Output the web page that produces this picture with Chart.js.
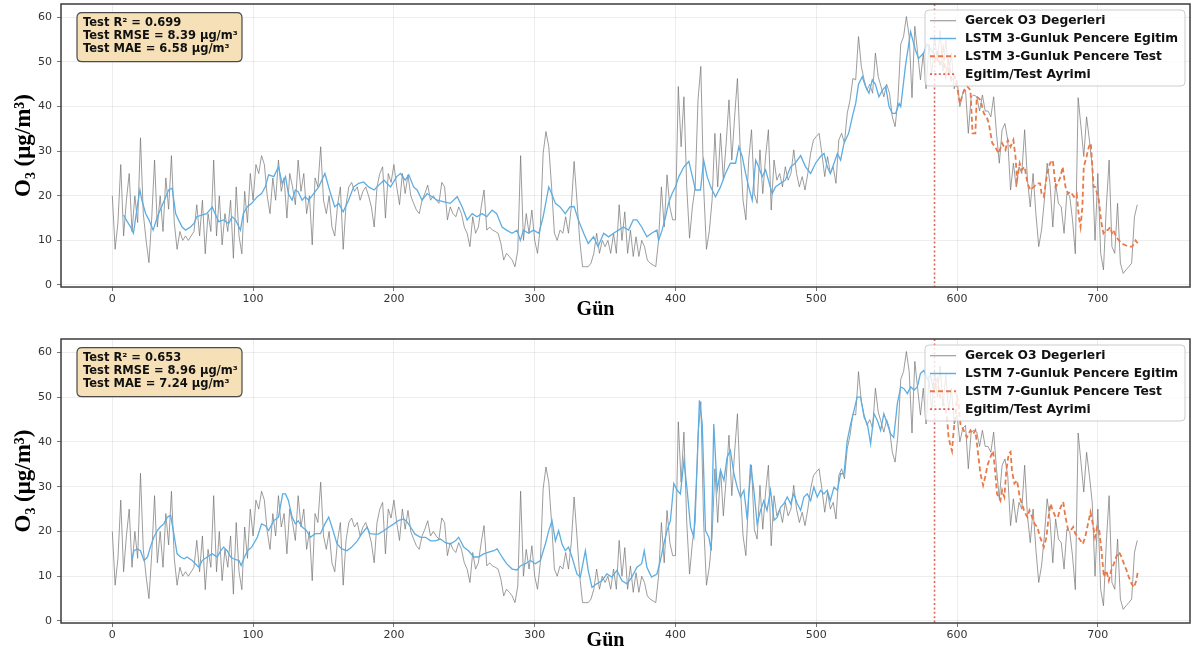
<!DOCTYPE html>
<html><head><meta charset="utf-8">
<script src="https://cdn.jsdelivr.net/npm/chart.js@4.4.1/dist/chart.umd.min.js"></script>
<style>
html,body{margin:0;padding:0;background:#fff;}
#wrap{position:relative;width:1192px;height:655px;overflow:hidden;background:#fff;}
canvas{position:absolute;left:0;}
</style></head><body>
<div id="wrap">
<canvas id="c1" width="1192" height="328" style="top:0px"></canvas>
<canvas id="c2" width="1192" height="327" style="top:328px"></canvas>
</div>
<script>
// ---------------- DATA ----------------
const xTicks = [0, 100, 200, 300, 400, 500, 600, 700];
const yTicks = [0, 10, 20, 30, 40, 50, 60];
const splitDay = 584;
const grayStepDays = 2;   // observed series sampled every 2 days starting at day 0
const grayValues = [
 20,8,14,27,11,19,25,12,20,14,33,16,10,5,15,28,13,20,12,24,17,29,14,8,12,10,11,10,11,12,18,11,19,7,16,12,28,11,20,9,16,12,19,6,22,11,7,21,14,25,19,
 27,25,29,27,20,16,24,19,28,21,24,15,25,22,18,28,21,25,16,20,9,24,22,31,19,16,20,13,11,18,22,8,18,22,23,21,22,19,21,22,20,
 17.5,13,22,25,26.5,15,25,23,27,22,
 18,25,20.5,24.7,20,18.3,16.8,16,19,20.5,
 22.4,19,20,19,18.3,23,22,14.6,17.5,16,
 15.3,17.5,16,13,11.6,8.6,15.3,11.6,13,17.5,
 21.3,12.3,13,12.3,12,11.6,9.3,5.6,7.1,6.4,
 5.6,4.1,7.8,29,10,16,11.6,16.8,10,7.1,
 13,29.5,34.4,31,22,11.6,10,12.3,11.6,15.3,
 11.6,17.5,27.7,19,10,4.1,4.1,4.1,4.9,7.1,
 11.6,7.1,10,8.6,10,7.1,11.6,7.1,18,10,
 16.4,7.1,12.3,6.4,10.8,6.4,10,8.6,
 5.6,4.9,4.5,4.1,10,22,13,24.7,17.5,14.6,
 14.6,44.5,31,42.2,22,10.5,17.5,22,41.5,49,
 22,8,12,19,34,22,34,23.5,31.8,41.5,
 28,37.7,46.3,30.3,19,14.6,28,34.8,20.5,18.3,
 30.3,20.5,28.8,34.8,16.8,28,23.5,25,22,26.5,
 23.5,25,30.3,25,22,24.3,21.3,25,29.5,32.5,
 33.3,34,29.5,24.3,28.8,25,26.5,22.8,32.5,34,
 31.8,38.5,41.5,46.3,46,55.7,49,46,43.7,45,
 43,52,46.7,44.5,42.2,45,43,37.7,35.5,41.5,
 54,55.7,60.2,55.7,42,58,52,46,52,44,
 54,47,56,50,57,48,55,47,52,44,
 46,40,43,43.7,34,42.2,42.6,42.2,39,42.6,
 39,39,37.7,42.2,34,27.3,34.8,36.2,32.5,21.3,
 27.3,22,26.5,25,34.8,23.5,17.5,25,16,8.6,
 12.3,19,27.3,22.8,13,22.8,18.3,17.5,11.6,20.5,
 20,14.6,7,42,35.5,28.8,37.7,32.5,26.5,10,
 25,7.1,3.4,17.5,28,8.6,7.1,18.3,4.9,2.6,
 3.4,4.1,4.9,15.3,18
];
// [day, value] pairs
const train3 = [
 [8,15.7],[10.6,14.2],[13,13],[15,11.6],[17.7,17.5],[19.6,21.3],[21,19],[23.6,16.1],[26,14.6],[29,12.3],[32,15.3],[34,16.8],[38,19.8],[40,21.3],[42.5,21.7],[45,16],[47,14.6],[49.6,13],[52,12.3],[55.5,13],[58,13.8],[60,15.3],[64,15.7],[67,16],[71,17.5],[73,16],[75.6,14.2],[79,14.6],[82.7,13.8],[85,15.3],[87.5,14.6],[91,12.3],[93,16],[95.7,17.5],[99,18.3],[103,19.8],[106,20.5],[108.7,22],[111,24.7],[114.7,24.3],[118,26.5],[120.6,22.8],[123,24.3],[125,20.5],[127.7,19],[130,21.3],[132,20.9],[134.8,19],[137,19.8],[139.5,19],[143,20.5],[146.6,22],[151,25],[155,20.5],[158,17.5],[160.8,18.3],[164,16.4],[167.8,19],[171.4,22],[175,22.8],[178.5,23.1],[182,22],
 [186,21.3],[188,22],[193,23.5],[197.6,22],[202,24.3],[204.7,25],[208,23.5],[210.6,24.7],[214,22],[216.5,21.3],[220,19],[223.6,20.5],[227,19.8],[230.7,19],[235,18.7],[240,18.3],[245,19.8],[248.5,17.5],[252,14.6],[255.6,16],[259,15.3],[262.6,16],[266,15.3],[269.7,16.8],[273,16],[276.8,13],[280,12.3],[284,11.6],[287.5,12.3],[289.8,10],[292,12.3],[295.7,11.6],[299,12.3],[303,11.6],[306,15.3],[310,22],[312,20.5],[314.7,18.3],[318,17.5],[321.7,16],[325,17.5],[328,17.6],[331,14.6],[334.8,11.6],[338,9.3],[341.8,10.8],[345,8.6],[349,11.6],[352.5,10.8],[356,11.6],[359.6,12.3],[363,13],[366.7,12.3],[370,14.6],[372.6,14.6],[376,13],[379.7,10.8],[383,11.6],[386.8,12.3],
 [388,10],[390.5,12.3],[393,15.3],[395,18.3],[397.6,20.5],[400,22],[402.4,24.3],[406,26.5],[409.5,27.7],[412,24.3],[414.2,21.3],[417.8,21.3],[420,28],[422.5,24.3],[425,22],[428.4,19.8],[432,22],[435.5,25],[439,27.3],[442.7,27.3],[445,31],[447.4,28.8],[449.8,25],[452,22],[454.5,19],[457,28],[459,26.5],[461.6,24.3],[464,25.8],[466,23.5],[468.7,20.5],[471,22],[474.6,22.8],[478,23.5],[481.8,26.5],[485,27.3],[488.9,29],[492.4,26.5],[496,25],[499.5,27.3],[503,28.8],[505.5,29.5],[507.8,26.5],[510,25],[512.6,27.3],[515,29.5],[517.3,28],[519.7,31.8],[523,34],[525.6,37.7],[528,40.7],[530,45],[532.7,46.7],[535,44.5],[537.4,43],[539.8,46],[542,45],[544.5,42.2],[547,43.7],[549.3,44.5],[551.7,40],[554,38.5],[556.4,38.5],[558.8,40.7],[560,40],[563.3,49],[567,56.8],[570.4,52.7],[572.7,50.8],[576.3,52],[578.7,54],[581,53],[583,52]
];
const test3 = [
 [584,50],[586,52],[588,49],[590,53],[592,47],[594,50],[596,46],[598,47],[600,44.5],[602,40.7],[605,43.7],[607.3,44.5],[609.5,43.7],[611,34],[613,34],[614,42.2],[616.6,41.5],[619,38.5],[621,37.7],[622.5,36.3],[625,31.8],[627,31],[629.6,29.5],[632,31.8],[634.4,30.3],[636,32.5],[638,31],[640,32.5],[641.5,28.8],[642.6,23.5],[644.5,27.3],[646,25.8],[648,26.5],[650,22.8],[652,21.3],[654.5,22],[657,22.8],[659,22.8],[660,20.5],[661.6,19.8],[664,25],[666,27.3],[668,28],[670,22],[671.6,22.8],[673.5,24.3],[675,26.5],[677,22],[678.7,20.5],[680.6,20.9],[683,19.8],[685,20.5],[686.5,15.3],[687.7,13],[689,17.5],[690,26.5],[692,28.8],[693.6,31],[695,31.8],[697,22],[698,22],[699.5,20.5],[700.7,19],[702,15.3],[703,13],[704,11.6],[705.5,12.3],[707,12.3],[709,13],[710,11.6],[711,12.3],[713,10.8],[715,10],[717,9.3],[719.7,8.9],[722,8.6],[724.4,8.6],[726.8,10],[728.4,9.3]
];
const train7 = [
 [13.7,13.5],[15.4,15.7],[17.7,16.1],[20,15.7],[22.5,13.5],[25,14.3],[27,16.5],[29.5,18.7],[32,20.2],[34,21],[36.6,21.7],[39,23.2],[41.4,23.6],[43.7,19.5],[46,15],[48.5,14.3],[51,13.9],[53,14.3],[56.7,13.5],[59,12.8],[61.5,12],[63.8,13.5],[67.4,14.3],[71,15],[74.5,14.3],[77,15.7],[79,16.5],[81.6,15.7],[84,14.3],[86,13.9],[90,13.5],[91.5,12.4],[93.9,14.3],[96,15.7],[99,16.5],[103,18.7],[106,21.7],[108.7,21.3],[111,20.2],[114.7,22.4],[118,23.2],[121,28.4],[123,28.4],[125,27],[127.7,23.2],[130,21.7],[132,22.4],[134.8,21],[138,20.2],[140.7,18.7],[144,19.5],[147.8,19.5],[151,21.7],[153.7,23.2],[156,21],[159.6,17.2],[163,16.1],[166.7,15.7],[170,16.5],[174,17.9],[177,19.4],[181,21],[183,19.5],
 [186,19.4],[189,19.4],[193,20.2],[196.5,21],[200,21.7],[203.5,22.5],[207,22.8],[209.5,22.1],[211.8,21],[215,19.4],[219,18.7],[222.5,18.7],[226,17.9],[229.5,17.9],[233,18.3],[236.6,17.5],[240,17.2],[243.7,17.9],[246,18.7],[249.6,16.5],[253,15.7],[256.7,14.3],[260,14.3],[263.8,15],[267.4,15.4],[271,15.7],[273.3,16.1],[276.8,14.3],[280,12.8],[284,11.6],[287.5,11.4],[289.8,12.3],[293.4,12.8],[297,13.5],[300.5,12.8],[304,13.5],[307.6,17.2],[310,20.2],[312.3,22.4],[314.7,17.9],[317,20.2],[319.4,17.2],[321.7,15.7],[324,16.5],[326.5,14.3],[330,10.5],[332.4,9.8],[336,15.7],[338,11.3],[340.7,7.5],[344,8.3],[347.8,9],[351.3,10.5],[354.8,9.8],[358.4,11.3],[362,9],[365.5,8.3],[369,9.8],[372.6,12],[376,12.8],[377.8,15.7],[379.7,12],[383,9.8],[386.8,10.5],
 [389.3,13.5],[391.7,17.2],[394,20.2],[396.4,22.4],[398.8,30.7],[401.2,29.2],[403.5,28.4],[406,35.9],[408.3,29.2],[410.7,21],[413,18.7],[415.4,35],[417,49.3],[419,44],[421.3,20.2],[423.7,18.7],[425.4,15.7],[427.2,44],[429.6,29.2],[432,33.7],[434.4,31.4],[436.7,36.6],[439,38.1],[441.5,32.9],[443.8,29.9],[446.2,27.7],[448.6,29.2],[451,22.5],[453.3,35],[455.7,29.2],[458,21.7],[460.4,24.7],[462.8,26.9],[465,24.7],[467.5,29.2],[470,22.5],[472.3,23.2],[474.6,25.4],[477,26.2],[479.4,27.7],[481.8,26.2],[484,28.4],[486.5,26.2],[488.9,24.7],[491.2,27.7],[493.6,28.4],[496,26.9],[498.3,29.9],[500.7,27.7],[503,29.2],[505.5,28.4],[507.8,29.2],[510,26.9],[512.6,29.9],[515,29.2],[517.3,32.9],[519.7,32.9],[522,40.3],[524.4,44],[526.8,47],[529,50],[531.5,50],[534,45.5],[536.3,44],[538.6,39.6],[541,46.3],[543.4,44.8],[545.7,42.6],[548,46.3],[550.5,44],[552.8,41.8],[555,41],[557.6,48.6],[560,52.3],[562.3,51.9],[564.7,50.8],[567,52.3],[569.4,51.6],[571.8,52.3],[574,55.3],[576.5,56],[579,54],[581,55],[583,52]
];
const test7 = [
 [584,52],[586,54],[588,50],[590,49],[592,47],[593,44.8],[594,41],[595,39.6],[596.4,38],[597.6,42.6],[598.8,45.6],[600,50],[601,48.6],[602.4,44],[604.7,42.6],[607,41],[609.5,42.6],[611.4,41.8],[613,42.6],[614.7,38],[616.6,32.9],[618.5,30.3],[620,32.2],[621.8,35],[623.7,36.6],[625.6,38],[627,33.6],[628.4,28.4],[629.6,27.7],[630.8,26.9],[632,29.2],[633.6,27.7],[635,33.6],[636.7,37.4],[638,37.8],[639,33.6],[640.7,30.7],[642.6,31.4],[644.5,27.7],[646,26.2],[648,24.3],[650,23.2],[651.4,24.7],[653.3,23.2],[655,21.7],[657,21],[659,18.7],[661.6,16.5],[663.5,18.7],[665,23.2],[666.4,26.2],[668,24.7],[670,23.2],[671.6,23.2],[673.5,25.4],[675.4,26.6],[677,23.2],[679,20.2],[680.6,20.2],[682.5,21],[684,19.5],[686,18.7],[687.7,18],[689.3,17.2],[691,18.7],[693,21.7],[694.8,24.3],[696.4,21.7],[698,18.7],[699.5,21],[701,20.2],[702.6,15.7],[704.3,9.8],[706,11.3],[707.8,9],[709.5,11.3],[711.4,12.8],[713,14.3],[715,15.4],[716.8,14.3],[718.5,12.8],[720.4,11.3],[722,9.8],[724,8.3],[725.6,7.5],[727.3,9],[728.4,11.1]
];
const stats3 = ['Test R\u00b2 = 0.699', 'Test RMSE = 8.39 \u03bcg/m\u00b3', 'Test MAE = 6.58 \u03bcg/m\u00b3'];
const stats7 = ['Test R\u00b2 = 0.653', 'Test RMSE = 8.96 \u03bcg/m\u00b3', 'Test MAE = 7.24 \u03bcg/m\u00b3'];
const labels3 = ['Gercek O3 Degerleri', 'LSTM 3-Gunluk Pencere Egitim', 'LSTM 3-Gunluk Pencere Test', 'Egitim/Test Ayrimi'];
const labels7 = ['Gercek O3 Degerleri', 'LSTM 7-Gunluk Pencere Egitim', 'LSTM 7-Gunluk Pencere Test', 'Egitim/Test Ayrimi'];
const xTitle = 'G\u00fcn';
const yTitle = 'O\u2083 (\u03bcg/m\u00b3)';

// ---------------- STYLE ----------------
const COL_GRAY = 'rgba(115,115,115,0.7)';
const COL_BLUE = '#5dade2';
const COL_ORANGE = '#e8794a';
const COL_SPLIT = 'rgba(214,60,50,0.8)';

const toXY = arr => arr.map(p => ({x: p[0], y: p[1]}));
const grayXY = grayValues.map((v, i) => ({x: i * grayStepDays, y: v}));

function roundRect(ctx, x, y, w, h, r) {
  ctx.beginPath();
  ctx.moveTo(x + r, y);
  ctx.lineTo(x + w - r, y); ctx.quadraticCurveTo(x + w, y, x + w, y + r);
  ctx.lineTo(x + w, y + h - r); ctx.quadraticCurveTo(x + w, y + h, x + w - r, y + h);
  ctx.lineTo(x + r, y + h); ctx.quadraticCurveTo(x, y + h, x, y + h - r);
  ctx.lineTo(x, y + r); ctx.quadraticCurveTo(x, y, x + r, y);
  ctx.closePath();
}

const overlay = {
  id: 'overlay',
  afterDatasetsDraw(chart, args, opts) {
    const {ctx, chartArea: a, scales: {x}} = chart;
    const px = x.getPixelForValue(opts.split);
    ctx.save();
    ctx.strokeStyle = COL_SPLIT; ctx.lineWidth = 1.6; ctx.setLineDash([2, 2.4]);
    ctx.beginPath(); ctx.moveTo(px, a.top); ctx.lineTo(px, a.bottom); ctx.stroke();
    ctx.setLineDash([]);
    ctx.strokeStyle = '#3c3c3c'; ctx.lineWidth = 1.5;
    ctx.strokeRect(a.left, a.top, a.right - a.left, a.bottom - a.top);
    ctx.restore();
  },
  afterDraw(chart, args, opts) {
    const {ctx, chartArea: a} = chart;
    ctx.save();
    // stats box
    const sx = a.left + 16, sy = a.top + 8.7, sw = 165, sh = 49;
    roundRect(ctx, sx, sy, sw, sh, 5);
    ctx.fillStyle = 'rgba(245,222,179,0.95)'; ctx.fill();
    ctx.strokeStyle = '#4a4a4a'; ctx.lineWidth = 1.2; ctx.stroke();
    ctx.fillStyle = '#111';
    ctx.font = 'bold 11.5px "DejaVu Sans"';
    ctx.textBaseline = 'middle'; ctx.textAlign = 'left';
    opts.stats.forEach((t, i) => ctx.fillText(t, sx + 6, sy + 10.8 + i * 13));
    // legend
    const bw = 260, bh = 76, bx = a.right - 5 - bw, by = a.top + 6;
    roundRect(ctx, bx, by, bw, bh, 4);
    ctx.fillStyle = 'rgba(255,255,255,0.8)'; ctx.fill();
    ctx.strokeStyle = 'rgba(200,200,200,0.9)'; ctx.lineWidth = 1; ctx.stroke();
    const styles = [
      {c: COL_GRAY, w: 1.2, d: []},
      {c: COL_BLUE, w: 1.5, d: []},
      {c: COL_ORANGE, w: 2, d: [5, 3]},
      {c: COL_SPLIT, w: 1.6, d: [2, 2.4]}
    ];
    ctx.font = 'bold 12.3px "DejaVu Sans"';
    opts.labels.forEach((t, i) => {
      const cy = by + 10.7 + i * 17.8;
      const s = styles[i];
      ctx.strokeStyle = s.c; ctx.lineWidth = s.w; ctx.setLineDash(s.d);
      ctx.beginPath(); ctx.moveTo(bx + 5, cy); ctx.lineTo(bx + 31, cy); ctx.stroke();
      ctx.setLineDash([]);
      ctx.fillStyle = '#111';
      ctx.fillText(t, bx + 40, cy + 0.5);
    });
    ctx.restore();
  }
};

function makeChart(id, train, test, stats, labels, padTop, xAxisH, xTitlePad, xTitleText) {
  return new Chart(document.getElementById(id), {
    type: 'line',
    data: {
      datasets: [
        {label: labels[0], data: grayXY, borderColor: COL_GRAY, borderWidth: 1, pointRadius: 0, tension: 0, order: 3},
        {label: labels[1], data: toXY(train), borderColor: COL_BLUE, borderWidth: 1.3, pointRadius: 0, tension: 0, order: 2},
        {label: labels[2], data: toXY(test), borderColor: COL_ORANGE, borderWidth: 1.8, borderDash: [5, 3], pointRadius: 0, tension: 0, order: 1}
      ]
    },
    options: {
      responsive: false,
      animation: false,
      events: [],
      layout: {padding: {top: padTop, right: 2, left: 0, bottom: 0}},
      plugins: {
        legend: {display: false},
        tooltip: {enabled: false},
        overlay: {split: splitDay, stats: stats, labels: labels}
      },
      scales: {
        x: {
          type: 'linear', min: -36.45, max: 765.45,
          afterBuildTicks: ax => { ax.ticks = xTicks.map(v => ({value: v})); },
          afterFit: s => { s.height = xAxisH; s.paddingLeft = 0; s.paddingRight = 0; },
          grid: {color: 'rgba(0,0,0,0.09)', lineWidth: 0.8, tickLength: 4, tickColor: '#555'},
          border: {display: false},
          ticks: {font: {family: 'DejaVu Sans', size: 11}, color: '#333', padding: 2, maxRotation: 0},
          title: {display: true, text: xTitleText, font: {family: 'Liberation Serif', size: 20, weight: 'bold'}, color: '#000', padding: {top: 0, bottom: xTitlePad}}
        },
        y: {
          type: 'linear', min: -0.45, max: 63,
          afterBuildTicks: ax => { ax.ticks = yTicks.map(v => ({value: v})); },
          afterFit: s => { s.width = 61; s.paddingTop = 0; s.paddingBottom = 0; },
          grid: {color: 'rgba(0,0,0,0.09)', lineWidth: 0.8, tickLength: 4, tickColor: '#555'},
          border: {display: false},
          ticks: {font: {family: 'DejaVu Sans', size: 11}, color: '#333', padding: 5},
          title: {display: true, text: yTitle, font: {family: 'Liberation Serif', size: 23, weight: 'bold'}, color: '#000', padding: {top: 10, bottom: 0}}
        }
      }
    },
    plugins: [overlay]
  });
}

// trailing spaces shift the centred axis title left, as in the reference
makeChart('c1', train3, test3, stats3, labels3, 4, 41, 6, xTitle + '            ');
makeChart('c2', train7, test7, stats7, labels7, 11, 32, 2, xTitle + '        ');
</script>
</body></html>
